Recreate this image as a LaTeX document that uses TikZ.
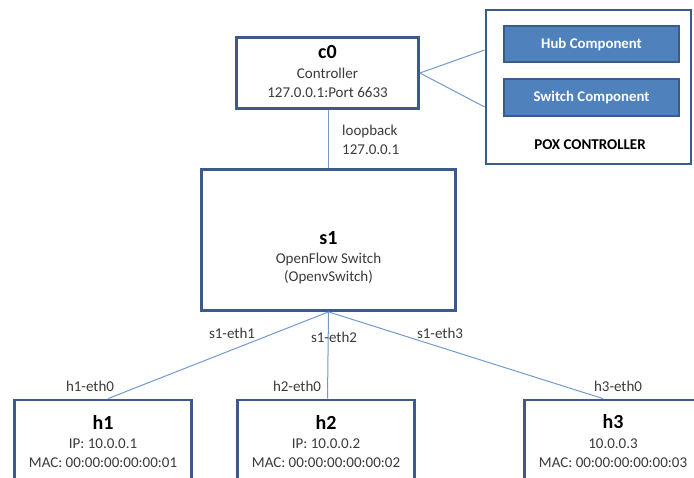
\documentclass[tikz,border=0pt]{standalone}
\usepackage{fontspec}
\setmainfont{Carlito}
\definecolor{boxline}{HTML}{3B5C8A}
\definecolor{linkblue}{HTML}{729ACD}
\definecolor{compfill}{HTML}{4F81BD}
\definecolor{compline}{HTML}{385D8A}
\definecolor{bodytext}{HTML}{3A3A3A}
\begin{document}
\begin{tikzpicture}[x=1pt,y=-1pt,
  box/.style={draw=boxline,line width=2.8pt,fill=white,rectangle,inner sep=0pt},
  comp/.style={draw=compline,line width=2pt,fill=compfill,rectangle,inner sep=0pt,
    minimum width=175pt,text=white,font=\fontsize{14.8}{16}\selectfont\bfseries},
  title/.style={inner sep=0pt,text=black,font=\fontsize{20}{24}\selectfont\bfseries},
  body/.style={inner sep=0pt,align=center,text=bodytext,font=\fontsize{15}{19}\selectfont},
  lbl/.style={inner sep=0pt,text=bodytext,font=\fontsize{15}{19}\selectfont},
  link/.style={draw=linkblue,line width=1pt}]
\useasboundingbox (0,0) rectangle (694,478);
\clip (0,0) rectangle (694,478);

% controller and POX application
\node[box,minimum width=182pt,minimum height=71pt] (c0) at (327.5,73) {};
\node[title] (c0t) at (327.5,52) {c0};
\node[body] (c0b) at (327.5,83) {Controller\\127.0.0.1:Port 6633};

\node[box,minimum width=205pt,minimum height=154pt] (pox) at (588.5,87) {};
\node[comp,minimum height=36pt] (hub) at (591.5,44) {Hub Component};
\node[comp,minimum height=37pt] (swc) at (591.5,97.5) {Switch Component};
\node[inner sep=0pt,font=\fontsize{15}{16}\selectfont\bfseries] (poxt) at (590,145) {POX CONTROLLER};

% OpenFlow switch
\node[box,minimum width=254pt,minimum height=141pt] (s1) at (328.5,240) {};
\node[title] (s1t) at (328.5,238) {s1};
\node[body,font=\fontsize{15}{18}\selectfont] (s1b) at (328.5,269) {OpenFlow Switch\\(OpenvSwitch)};

% hosts
\node[box,minimum width=177pt,minimum height=160pt] (h1) at (103,480) {};
\node[box,minimum width=177pt,minimum height=160pt] (h2) at (326,480) {};
\node[box,minimum width=177pt,minimum height=160pt] (h3) at (613,480) {};
\node[title] (h1t) at (103,422) {h1};
\node[title] (h2t) at (326,422) {h2};
\node[title] (h3t) at (613,422) {h3};
\node[body] (h1b) at (103,453) {IP: 10.0.0.1\\MAC: 00:00:00:00:00:01};
\node[body] (h2b) at (326,453) {IP: 10.0.0.2\\MAC: 00:00:00:00:00:02};
\node[body] (h3b) at (613,453) {10.0.0.3\\MAC: 00:00:00:00:00:03};

% links
\draw[link] (c0.east) -- ([yshift=37pt]pox.west);
\draw[link] (c0.east) -- ([yshift=-20pt]pox.west);
\draw[link] (c0.south -| s1.north) -- (s1.north);
\draw[link] (s1.south) -- ([xshift=5pt]h1.north);
\draw[link] (s1.south) -- ([xshift=1.5pt]h2.north);
\draw[link] (s1.south) -- ([xshift=-10pt]h3.north);

% interface labels
\node[lbl,align=left,anchor=west] (lo) at (342,140) {loopback\\127.0.0.1};
\node[lbl] (e1) at (232,333) {s1-eth1};
\node[lbl] (e2) at (334,337) {s1-eth2};
\node[lbl] (e3) at (440,333) {s1-eth3};
\node[lbl] (h1e) at (90,386) {h1-eth0};
\node[lbl] (h2e) at (297,386) {h2-eth0};
\node[lbl] (h3e) at (618,386) {h3-eth0};
\end{tikzpicture}
\end{document}
